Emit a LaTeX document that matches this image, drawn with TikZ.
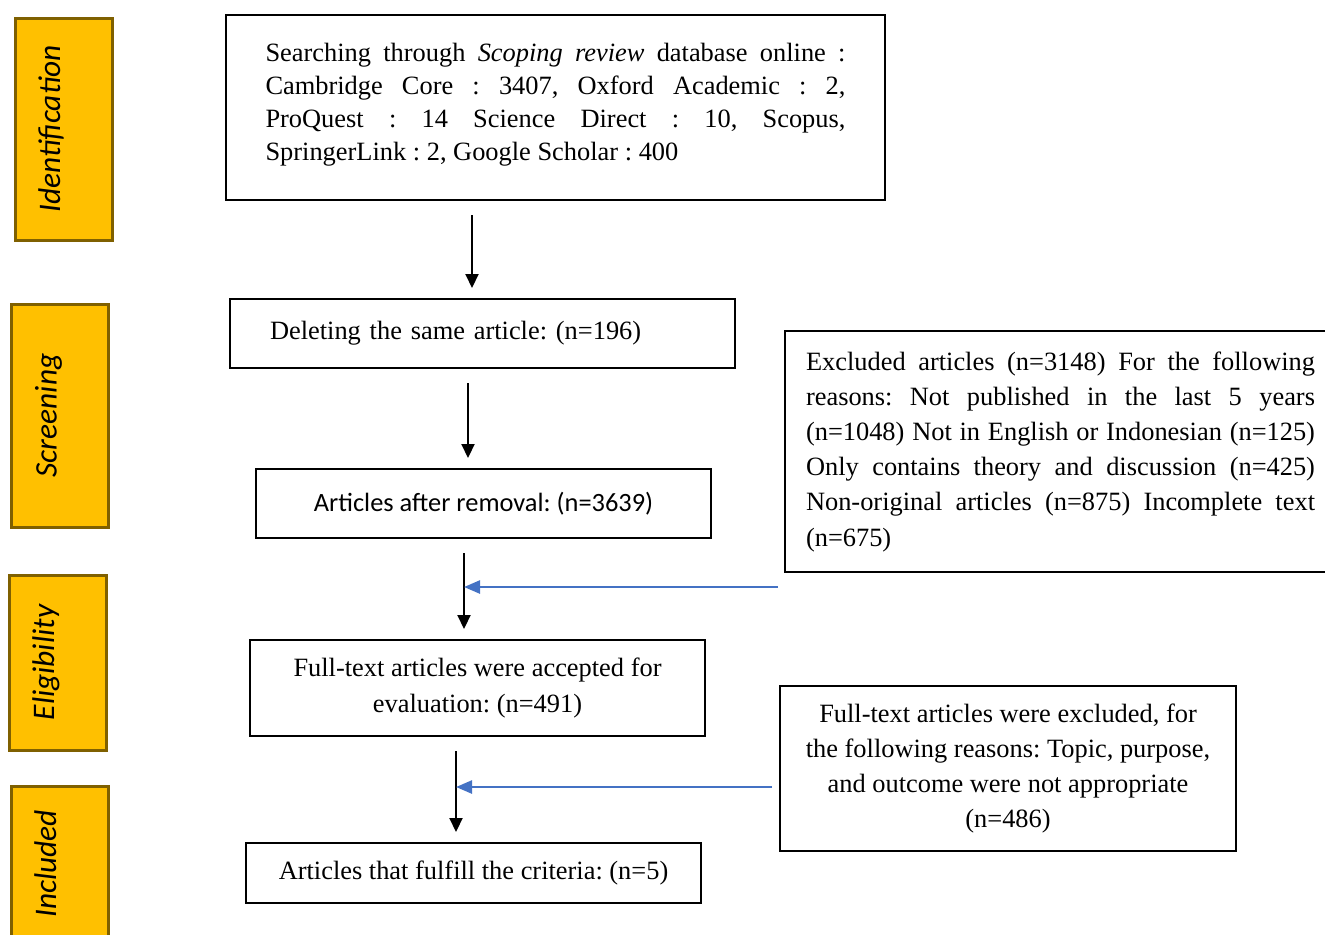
\documentclass[tikz,border=0pt]{standalone}
\usepackage{fontspec}
\setmainfont{Liberation Serif}
\newfontfamily\calibri{Carlito}
\usetikzlibrary{arrows.meta}
\definecolor{stageorange}{HTML}{FFC000}
\definecolor{stageedge}{HTML}{7F6000}
\definecolor{excblue}{HTML}{4472C4}
\frenchspacing
\begin{document}
\begin{tikzpicture}[x=0.5pt,y=-0.5pt,
		stage/.style={draw=stageedge,line width=1.5pt,fill=stageorange,rotate=90,inner sep=0pt,
			text height=22.5pt,text depth=26pt,font=\calibri\itshape\fontsize{15.7}{18}\selectfont},
		box/.style={draw,line width=1pt,inner sep=0pt,font=\fontsize{13.2}{17.6}\selectfont},
		flow/.style={-{Triangle[length=7pt,width=6.5pt]},line width=1pt,shorten <=7pt,shorten >=5pt},
		cut/.style={-{Triangle[length=8pt,width=6.5pt]},draw=excblue,line width=1.25pt}]
			\useasboundingbox (0,0) rectangle (1325,934);
			
			%Stage labels
			\node[stage,minimum width=111pt] (lblI) at (63.5,129) {Identification};
			\node[stage,minimum width=111.5pt] (lblS) at (60,415.5) {Screening};
			\node[stage,minimum width=87.5pt] (lblE) at (57.5,662.5) {Eligibility};
			\node[stage,minimum width=78pt] (lblC) at (59.5,864) {Included};
			
			%Main flow
			\node[box,font=\fontsize{13.2}{16.5}\selectfont,text width=290pt,align=justify,minimum width=329.5pt,minimum height=92.5pt] (search) at (555.5,107.5)
				{Searching through \textit{Scoping review} database online :\linebreak
				Cambridge Core : 3407, Oxford Academic : 2,\linebreak
				ProQuest : 14 Science Direct : 10, Scopus,\linebreak
				SpringerLink : 2, Google Scholar : 400\par\nointerlineskip\rule{0pt}{3pt}};
			\node[box,text width=212.5pt,align=left,minimum width=252.5pt,minimum height=34.5pt] (dup) at (482.5,333.5)
				{Deleting the same article: (n=196)};
			\node[box,font=\calibri\fontsize{13.2}{17.6}\selectfont,minimum width=227.5pt,minimum height=34.5pt] (removal) at (483.5,503.5)
				{Articles after removal: (n=3639)};
			\node[box,align=center,minimum width=227.5pt,minimum height=48pt] (full) at (477.5,688)
				{Full-text articles were accepted for\\ evaluation: (n=491)};
			\node[box,minimum width=227.5pt,minimum height=30pt] (result) at (473.5,873)
				{Articles that fulfill the criteria: (n=5)};
			
			%Excluded
			\node[box,text width=254.5pt,align=justify,minimum width=275.5pt,minimum height=120.5pt] (exc1) at (1060.5,451.5)
				{Excluded articles (n=3148) For the following\linebreak
				reasons: Not published in the last 5 years\linebreak
				(n=1048) Not in English or Indonesian (n=125)\linebreak
				Only contains theory and discussion (n=425)\linebreak
				Non-original articles (n=875) Incomplete text\linebreak
				(n=675)};
			\node[box,align=center,minimum width=228pt,minimum height=82.5pt] (exc2) at (1008,768.5)
				{Full-text articles were excluded, for\\ the following reasons: Topic, purpose,\\ and outcome were not appropriate\\ (n=486)};
			
			%Arrows
			\coordinate (a1) at (472,0);
			\coordinate (a2) at (468,0);
			\coordinate (a3) at (464,0);
			\coordinate (a4) at (456,0);
			\draw[flow] (search.south -| a1) -- (dup.north -| a1);
			\draw[flow] (dup.south -| a2) -- (removal.north -| a2);
			\draw[flow] (removal.south -| a3) -- (full.north -| a3);
			\draw[flow] (full.south -| a4) -- (result.north -| a4);
			
			\coordinate (e1) at (778,587);
			\coordinate (e2) at (772,787);
			\draw[cut] (e1) -- (e1 -| a3);
			\draw[cut] (e2) -- (e2 -| a4);
			
		\end{tikzpicture}
\end{document}
